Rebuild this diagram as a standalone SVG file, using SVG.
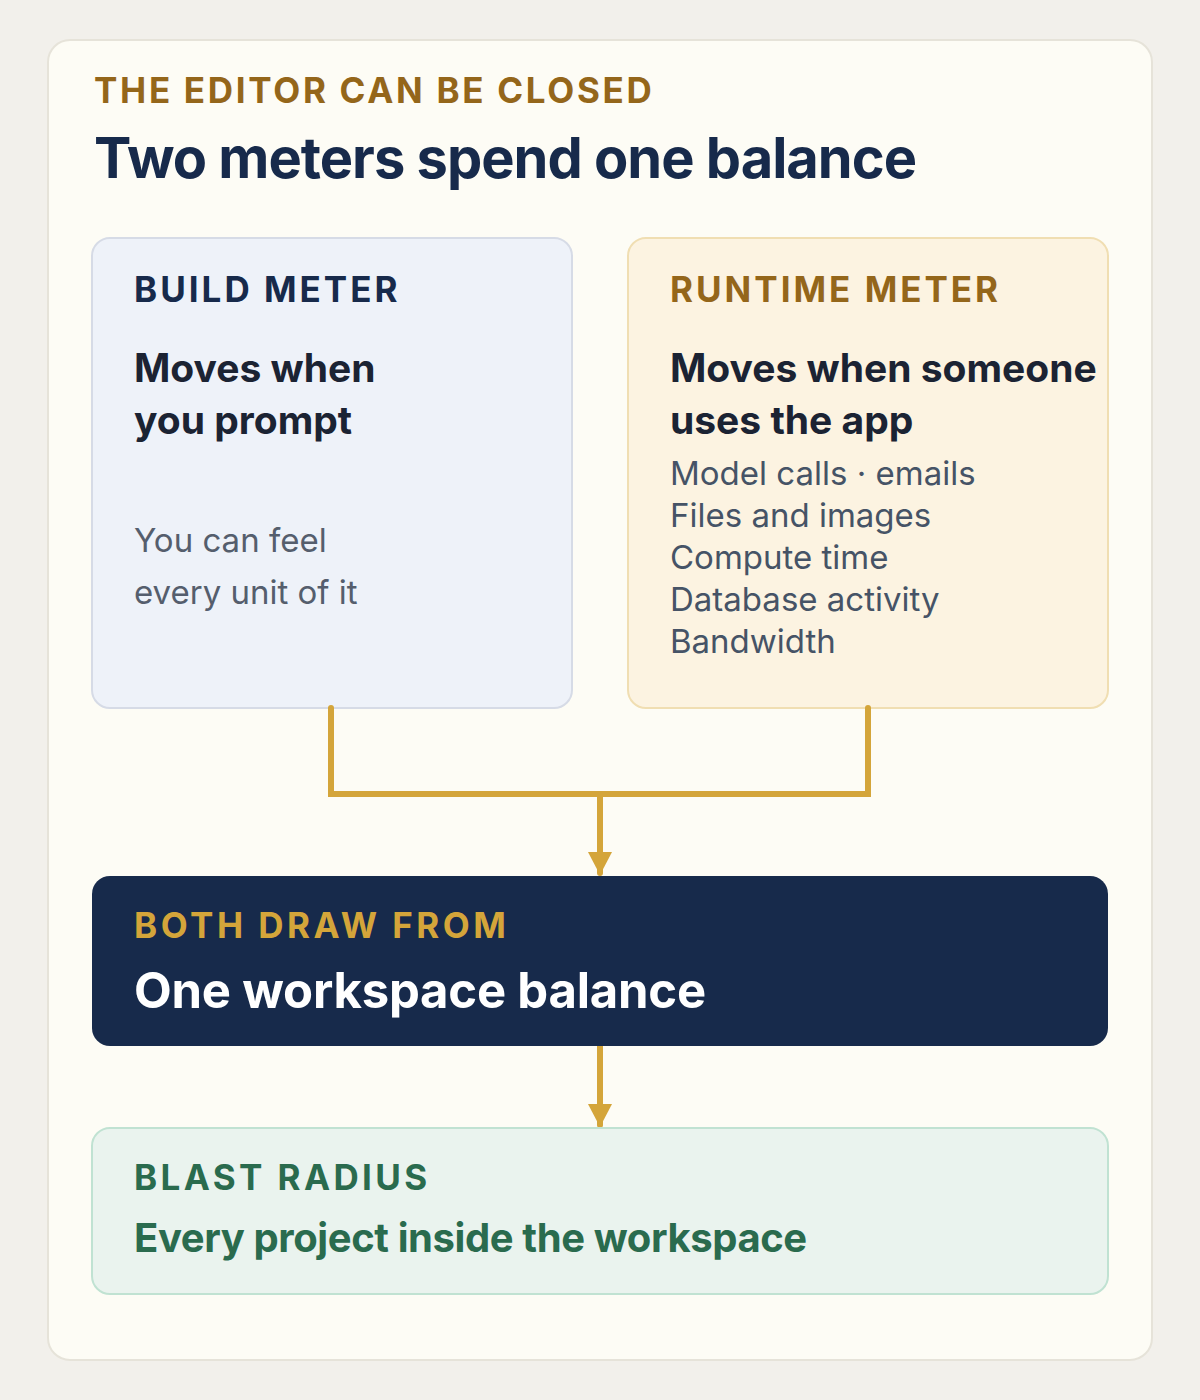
<svg xmlns="http://www.w3.org/2000/svg" width="1200" height="1400" viewBox="0 0 1200 1400">
<defs>
<style>
text{font-family:Inter,"Noto Sans","Liberation Sans",sans-serif}
.eyebrow{font-size:35px;font-weight:700;letter-spacing:3px}
.head{font-size:39px;font-weight:700;fill:#1b2333;letter-spacing:0}
.body{font-size:33px;font-weight:400}
.conn{fill:none;stroke:#d4a53a;stroke-width:6;stroke-linejoin:miter;stroke-linecap:round}
</style>
<marker id="arr" viewBox="0 0 23 24" refX="21" refY="12" markerWidth="23" markerHeight="24" markerUnits="userSpaceOnUse" orient="auto">
<path d="M0,0 L23,12 L0,24 Z" fill="#d4a53a"/>
</marker>
</defs>
<rect x="0" y="0" width="1200" height="1400" fill="#f2f0eb"/>
<rect x="48" y="40" width="1104" height="1320" rx="22" fill="#fdfcf5" stroke="#e6e3d9" stroke-width="2"/>
<g id="header">
<text x="94" y="103" class="eyebrow" fill="#94661a" style="letter-spacing:2.7px">THE EDITOR CAN BE CLOSED</text>
<text x="94" y="178" font-size="56" font-weight="700" fill="#172a4b" letter-spacing="-1">Two meters spend one balance</text>
</g>
<g id="build-meter">
<rect x="92" y="238" width="480" height="470" rx="18" fill="#eef2f9" stroke="#d6dbe6" stroke-width="2"/>
<text x="134" y="302" class="eyebrow" fill="#172a4b">BUILD METER</text>
<text x="134" y="382" class="head">Moves when</text>
<text x="134" y="434" class="head">you prompt</text>
<text x="134" y="552" class="body" fill="#555e6d">You can feel</text>
<text x="134" y="604" class="body" fill="#555e6d">every unit of it</text>
</g>
<g id="runtime-meter">
<rect x="628" y="238" width="480" height="470" rx="18" fill="#fcf3e1" stroke="#f0deb2" stroke-width="2"/>
<text x="670" y="302" class="eyebrow" fill="#94661a">RUNTIME METER</text>
<text x="670" y="382" class="head">Moves when someone</text>
<text x="670" y="434" class="head">uses the app</text>
<g fill="#465366">
<text x="670" y="485" class="body">Model calls · emails</text>
<text x="670" y="527" class="body">Files and images</text>
<text x="670" y="569" class="body">Compute time</text>
<text x="670" y="611" class="body">Database activity</text>
<text x="670" y="653" class="body">Bandwidth</text>
</g>
</g>
<g id="connectors">
<path class="conn" d="M331,708 V794 H868 V708"/>
<path class="conn" d="M600,794 V873" marker-end="url(#arr)"/>
<path class="conn" d="M600,1046 V1125" marker-end="url(#arr)"/>
</g>
<g id="balance">
<rect x="92" y="876" width="1016" height="170" rx="18" fill="#172a4b"/>
<text x="134" y="938" class="eyebrow" fill="#d4a53a" style="letter-spacing:3.5px">BOTH DRAW FROM</text>
<text x="134" y="1008" font-size="49" font-weight="700" fill="#ffffff" letter-spacing="-0.2">One workspace balance</text>
</g>
<g id="blast-radius">
<rect x="92" y="1128" width="1016" height="166" rx="18" fill="#eaf3ee" stroke="#c0e2d2" stroke-width="2"/>
<text x="134" y="1190" class="eyebrow" fill="#2a6b4e" style="letter-spacing:3.4px">BLAST RADIUS</text>
<text x="134" y="1252" font-size="40" font-weight="700" fill="#2a6b4e" letter-spacing="-0.4">Every project inside the workspace</text>
</g>
</svg>
